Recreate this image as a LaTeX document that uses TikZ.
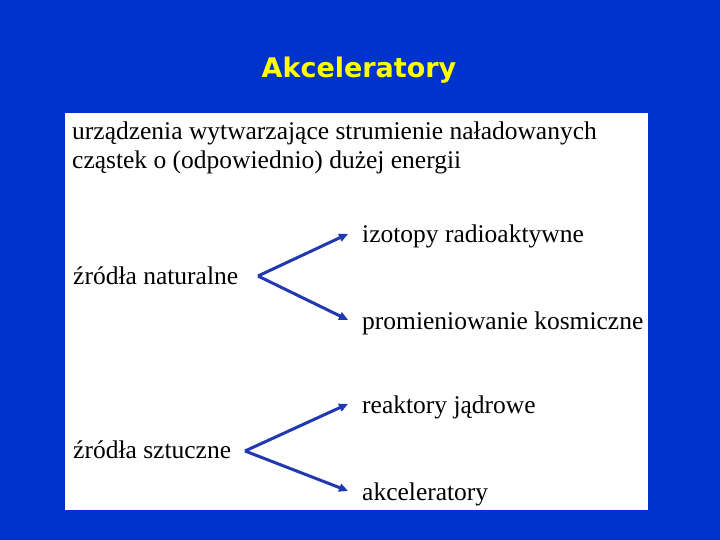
\documentclass[tikz,border=0pt]{standalone}
\usepackage{fontspec}
\setmainfont{Liberation Serif}
\newfontfamily\titlefont{DejaVu Sans}
\usetikzlibrary{arrows.meta,calc,positioning}
\definecolor{slideblue}{RGB}{0,51,204}
\definecolor{arrowblue}{RGB}{32,56,176}
\definecolor{titleyellow}{RGB}{255,255,0}

\begin{document}
\begin{tikzpicture}[x=1pt,y=-1pt,
    txt/.style={anchor=base west,inner sep=0pt,font=\fontsize{25.5}{29}\selectfont},
    arr/.style={arrowblue,line width=3pt,-{Triangle[length=9pt,width=8pt]}}]
    \fill[slideblue] (0,0) rectangle (720,540);
    \useasboundingbox (0,0) rectangle (720,540);
    \fill[white] (65,113) rectangle (648,510);
    \node[anchor=base,inner sep=0pt,text=titleyellow,
          font=\titlefont\bfseries\fontsize{27}{30}\selectfont] (title) at (359,78) {Akceleratory};
    \node[txt] (def1) at (72,140) {urządzenia wytwarzające strumienie naładowanych};
    \node[txt] (def2) at (72,169) {cząstek o (odpowiednio) dużej energii};
    \node[txt] (nat) at (73,284) {źródła naturalne};
    \node[txt] (izo) at (362,243) {izotopy radioaktywne};
    \node[txt] (kos) at (362,329) {promieniowanie kosmiczne};
    \node[txt] (szt) at (73,458) {źródła sztuczne};
    \node[txt] (reak) at (362,413) {reaktory jądrowe};
    \node[txt] (akc) at (362,500) {akceleratory};
    \coordinate (natapex) at (258,276);
    \coordinate (sztapex) at (245,451);
    \draw[arr] (natapex) -- ([xshift=-14pt,yshift=3pt]izo.west);
    \draw[arr] (natapex) -- ([xshift=-14pt,yshift=3pt]kos.west);
    \draw[arr] (sztapex) -- ([xshift=-14pt,yshift=3pt]reak.west);
    \draw[arr] (sztapex) -- ([xshift=-14pt,yshift=3pt]akc.west);
\end{tikzpicture}
\end{document}
